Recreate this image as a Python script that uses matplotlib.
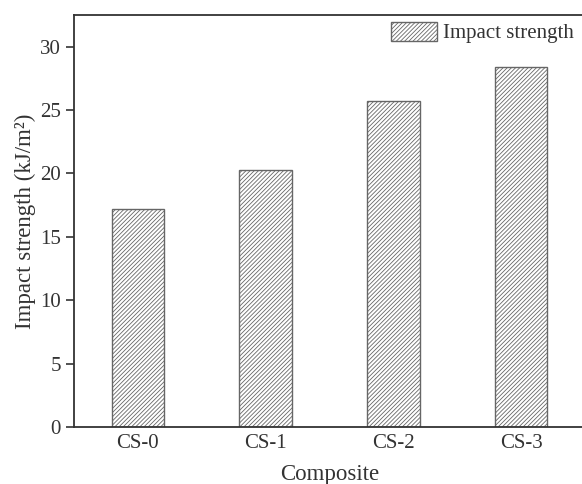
import matplotlib
matplotlib.use("Agg")
import matplotlib.pyplot as plt

categories = ["CS-0", "CS-1", "CS-2", "CS-3"]
impact_strength = [17.2, 20.3, 25.7, 28.4]
y_ticks = [0, 5, 10, 15, 20, 25, 30]

plt.rcParams["font.family"] = ["Liberation Serif", "DejaVu Serif"]
plt.rcParams["hatch.linewidth"] = 0.6
plt.rcParams["hatch.color"] = "#666666"

W, H = 582, 484
fig = plt.figure(figsize=(W / 100, H / 100), dpi=100)
ax = fig.add_axes([74 / W, 1 - 427 / H, (585 - 74) / W, (427 - 15) / H])

x = list(range(len(categories)))
ax.bar(x, impact_strength, width=0.41, color="white", edgecolor="#666666",
       linewidth=1.0, hatch="////////", label="Impact strength", zorder=2)

ax.set_xlim(-0.5, 3.5)
ax.set_ylim(0, 32.5)
ax.set_xticks(x)
ax.set_xticklabels(categories)
ax.set_yticks(y_ticks)

for s in ax.spines.values():
    s.set_linewidth(1.3)
    s.set_color("#333333")

ax.tick_params(axis="y", direction="out", length=6, width=1.2, pad=3.5,
               labelsize=15, colors="#333333")
ax.tick_params(axis="x", length=0, pad=5, labelsize=15, colors="#333333")

ax.set_xlabel("Composite", fontsize=16.5, color="#333333")
ax.xaxis.set_label_coords(0.5, -0.09)
ax.set_ylabel("Impact strength (kJ/m\u00b2)", fontsize=16.5, color="#333333")
ax.yaxis.set_label_coords(-0.074, 0.5)

leg = ax.legend(loc="upper left", bbox_to_anchor=(391 / W, 1 - 22 / H),
                bbox_transform=fig.transFigure, frameon=False, borderpad=0,
                handlelength=2.2, handleheight=1.0, handletextpad=0.3,
                fontsize=15, borderaxespad=0)
for t in leg.get_texts():
    t.set_color("#333333")

fig.savefig("out.png", dpi=100)
